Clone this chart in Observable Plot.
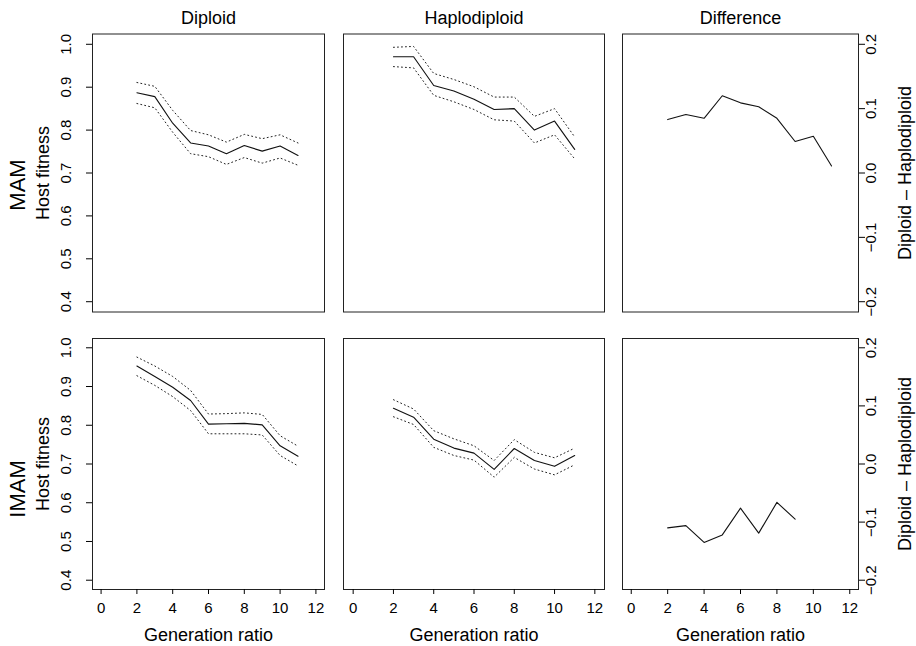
<!DOCTYPE html>
<html>
<head>
<meta charset="utf-8">
<script src="https://cdn.jsdelivr.net/npm/d3@7"></script>
<script src="https://cdn.jsdelivr.net/npm/@observablehq/plot@0.6"></script>
<style>
  body { margin: 0; background: #fff; }
  #chart { position: relative; width: 916px; height: 646px; overflow: hidden; background: #fff; }
  #chart svg { position: absolute; }
</style>
</head>
<body>
<div id="chart"></div>
<script>
// ---------- data ----------
const generations = [2, 3, 4, 5, 6, 7, 8, 9, 10, 11];

const mamDiploidMean  = [0.887, 0.878, 0.816, 0.770, 0.763, 0.745, 0.764, 0.751, 0.763, 0.741];
const mamDiploidUpper = [0.911, 0.902, 0.846, 0.799, 0.789, 0.772, 0.790, 0.780, 0.789, 0.770];
const mamDiploidLower = [0.862, 0.852, 0.795, 0.745, 0.738, 0.720, 0.736, 0.723, 0.735, 0.718];

const mamHaploMean  = [0.971, 0.971, 0.904, 0.891, 0.872, 0.848, 0.850, 0.800, 0.821, 0.755];
const mamHaploUpper = [0.993, 0.995, 0.932, 0.918, 0.901, 0.877, 0.877, 0.832, 0.850, 0.784];
const mamHaploLower = [0.948, 0.945, 0.881, 0.866, 0.848, 0.824, 0.821, 0.770, 0.789, 0.733];

const mamDifference = [0.083, 0.091, 0.085, 0.120, 0.109, 0.103, 0.085, 0.049, 0.057, 0.011];

const imamDiploidMean  = [0.953, 0.926, 0.898, 0.864, 0.803, 0.804, 0.805, 0.801, 0.747, 0.720];
const imamDiploidUpper = [0.976, 0.953, 0.926, 0.890, 0.829, 0.830, 0.832, 0.828, 0.773, 0.746];
const imamDiploidLower = [0.928, 0.903, 0.874, 0.838, 0.778, 0.778, 0.778, 0.775, 0.722, 0.695];

const imamHaploMean  = [0.844, 0.821, 0.764, 0.741, 0.728, 0.686, 0.740, 0.709, 0.694, 0.722];
const imamHaploUpper = [0.866, 0.842, 0.786, 0.765, 0.747, 0.709, 0.763, 0.730, 0.716, 0.741];
const imamHaploLower = [0.822, 0.802, 0.743, 0.722, 0.710, 0.666, 0.717, 0.687, 0.672, 0.698];

const imamDiffGenerations = [2, 3, 4, 5, 6, 7, 8, 9];
const imamDifference = [-0.110, -0.106, -0.135, -0.122, -0.076, -0.119, -0.066, -0.095];

const columnTitles = ["Diploid", "Haplodiploid", "Difference"];
const rowTitles = ["MAM", "IMAM"];
const xLabel = "Generation ratio";
const yLabelLeft = "Host fitness";
const yLabelRight = "Diploid \u2013 Haplodiploid";

const xTicks = [0, 2, 4, 6, 8, 10, 12];
const fitnessTicks = [0.4, 0.5, 0.6, 0.7, 0.8, 0.9, 1.0];
const diffTicks = [-0.2, -0.1, 0.0, 0.1, 0.2];

// ---------- helpers ----------
function band(xs, mean, lower, upper) {
  return xs.map((g, i) => ({g, mean: mean[i], lower: lower ? lower[i] : null, upper: upper ? upper[i] : null}));
}

const panels = [
  [band(generations, mamDiploidMean, mamDiploidLower, mamDiploidUpper),
   band(generations, mamHaploMean, mamHaploLower, mamHaploUpper),
   band(generations, mamDifference)],
  [band(generations, imamDiploidMean, imamDiploidLower, imamDiploidUpper),
   band(generations, imamHaploMean, imamHaploLower, imamHaploUpper),
   band(imamDiffGenerations, imamDifference)]
];

const cols = [
  {left: 0,   width: 333, ml: 92, mr: 9},
  {left: 333, width: 280, ml: 10, mr: 9},
  {left: 613, width: 303, ml: 9,  mr: 58}
];
const rows = [
  {top: 0,   height: 325, mt: 33.5, mb: 13.5, rowDy: 12},
  {top: 325, height: 321, mt: 13,   mb: 57,   rowDy: 25}
];

const FONT = "'Liberation Sans', Arial, Helvetica, sans-serif";
const fmtMinus = d => d.toFixed(1).replace("-", "\u2212");

const chart = document.getElementById("chart");

rows.forEach((row, r) => {
  cols.forEach((col, c) => {
    const data = panels[r][c];
    const isDiff = c === 2;
    const marks = [];

    if (!isDiff) {
      marks.push(Plot.line(data, {x: "g", y: "upper", stroke: "#222", strokeWidth: 1, strokeDasharray: "1,3"}));
      marks.push(Plot.line(data, {x: "g", y: "lower", stroke: "#222", strokeWidth: 1, strokeDasharray: "1,3"}));
    }
    marks.push(Plot.line(data, {x: "g", y: "mean", stroke: "#111", strokeWidth: 1.1}));
    marks.push(Plot.frame({stroke: "#222", strokeWidth: 1}));

    // x axis on the bottom row
    if (r === 1) {
      marks.push(Plot.axisX(xTicks, {anchor: "bottom", tickSize: 5, tickPadding: 7.7, fontSize: 15, label: null, tickFormat: d => String(d)}));
      marks.push(Plot.text([xLabel], {frameAnchor: "bottom", dy: 51, textAnchor: "middle", lineAnchor: "bottom", fontSize: 18, fill: "#000"}));
    }
    // column titles on the top row
    if (r === 0) {
      marks.push(Plot.text([columnTitles[c]], {frameAnchor: "top", dy: -10.5, textAnchor: "middle", lineAnchor: "bottom", fontSize: 18, fill: "#000"}));
    }
    // left axis
    if (c === 0) {
      marks.push(Plot.axisY(fitnessTicks, {anchor: "left", tickSize: 6, tickPadding: 15.5, tickRotate: -90, fontSize: 15, label: null, tickFormat: d => d.toFixed(1)}));
      marks.push(Plot.text([yLabelLeft], {frameAnchor: "left", dx: -49.5, rotate: -90, textAnchor: "middle", lineAnchor: "middle", fontSize: 18, fill: "#000"}));
      marks.push(Plot.text([rowTitles[r]], {frameAnchor: "left", dx: -74.5, dy: row.rowDy, rotate: -90, textAnchor: "middle", lineAnchor: "middle", fontSize: 22, fill: "#000"}));
    }
    // right axis
    if (isDiff) {
      marks.push(Plot.axisY(diffTicks, {anchor: "right", tickSize: 6, tickPadding: 1, tickRotate: -90, lineAnchor: "top", fontSize: 15, label: null, tickFormat: fmtMinus}));
      marks.push(Plot.text([yLabelRight], {frameAnchor: "right", dx: 47, rotate: -90, textAnchor: "middle", lineAnchor: "middle", fontSize: 18, fill: "#000"}));
    }

    const svg = Plot.plot({
      width: col.width,
      height: row.height,
      marginLeft: col.ml,
      marginRight: col.mr,
      marginTop: row.mt,
      marginBottom: row.mb,
      x: {domain: [-0.48, 12.48], axis: null},
      y: {domain: isDiff ? [-0.216, 0.216] : [0.376, 1.024], axis: null},
      style: {fontFamily: FONT, fontSize: "15px", color: "#000", background: "transparent", overflow: "visible"},
      marks
    });
    svg.style.left = col.left + "px";
    svg.style.top = row.top + "px";
    chart.appendChild(svg);
  });
});
</script>
</body>
</html>
